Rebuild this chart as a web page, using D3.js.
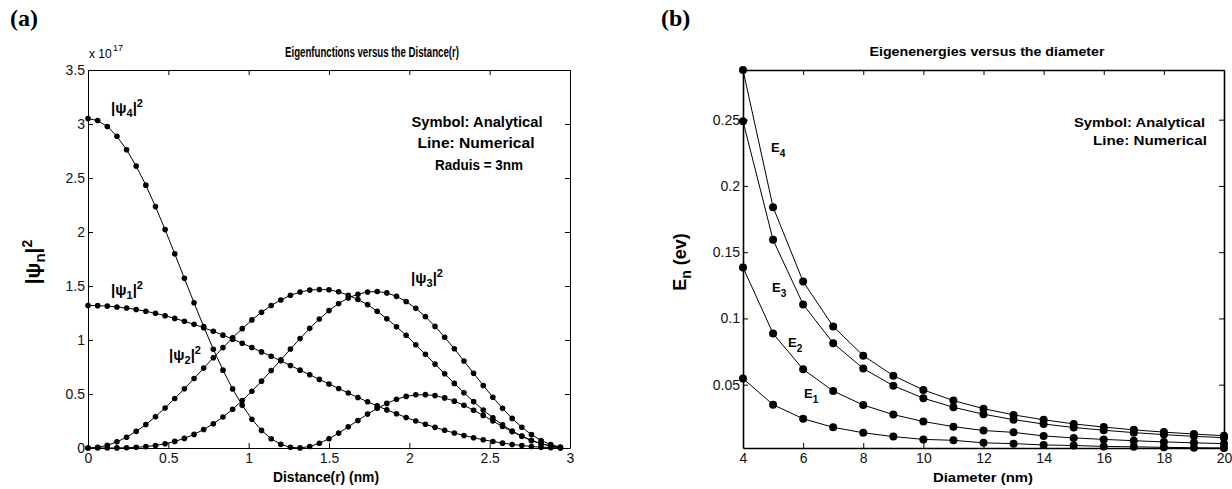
<!DOCTYPE html>
<html><head><meta charset="utf-8">
<script src="https://cdn.jsdelivr.net/npm/d3@7"></script>
<style>body{margin:0;background:#fff}svg{display:block}</style>
</head><body><svg id="c" width="1232" height="489"></svg>
<script>
// ---------- Panel (a) data ----------
const rNm = [0,0.06,0.12,0.18,0.24,0.30,0.36,0.42,0.48,0.54,0.60,0.66,0.72,0.78,0.84,0.90,0.96,1.02,1.08,1.14,
  1.20,1.26,1.32,1.38,1.44,1.50,1.56,1.62,1.68,1.74,1.80,1.86,1.92,1.98,2.04,2.10,2.16,2.22,2.28,2.34,
  2.40,2.46,2.52,2.58,2.64,2.70,2.76,2.82,2.88,2.94];
const psi1 = [1.320,1.318,1.314,1.306,1.296,1.282,1.266,1.247,1.225,1.200,1.174,1.145,1.113,1.080,1.045,1.008,0.970,0.930,0.890,0.849,
  0.807,0.764,0.721,0.678,0.635,0.593,0.551,0.509,0.468,0.428,0.390,0.353,0.317,0.283,0.250,0.220,0.191,0.164,0.139,0.116,
  0.095,0.076,0.060,0.045,0.033,0.023,0.014,0.008,0.003,0.001];
const psi2 = [0,0.006,0.025,0.057,0.100,0.154,0.217,0.290,0.371,0.458,0.549,0.643,0.740,0.836,0.929,1.021,1.105,1.186,1.257,1.319,
  1.371,1.414,1.444,1.462,1.468,1.465,1.446,1.415,1.375,1.328,1.266,1.197,1.123,1.044,0.956,0.867,0.777,0.687,0.598,0.512,
  0.429,0.351,0.280,0.215,0.158,0.110,0.070,0.039,0.017,0.004];
const psi3 = [0,0.000,0.000,0.001,0.003,0.006,0.013,0.023,0.039,0.061,0.089,0.126,0.171,0.225,0.287,0.359,0.439,0.526,0.619,0.717,
  0.816,0.916,1.014,1.108,1.194,1.272,1.338,1.390,1.424,1.445,1.449,1.436,1.404,1.357,1.293,1.216,1.126,1.026,0.919,0.806,
  0.692,0.579,0.470,0.367,0.274,0.192,0.124,0.070,0.031,0.008];
const psi4 = [3.050,3.032,2.977,2.887,2.762,2.610,2.434,2.235,2.022,1.798,1.571,1.345,1.124,0.915,0.721,0.547,0.395,0.266,0.163,0.086,
  0.034,0.006,0.001,0.014,0.044,0.086,0.138,0.196,0.255,0.314,0.367,0.413,0.451,0.478,0.492,0.494,0.485,0.464,0.434,0.395,
  0.350,0.302,0.250,0.199,0.152,0.108,0.070,0.040,0.018,0.004];
const xTicksA = [0,0.5,1,1.5,2,2.5,3];
const yTicksA = [0,0.5,1,1.5,2,2.5,3,3.5];

// ---------- Panel (b) data ----------
const diam = [4,5,6,7,8,9,10,11,12,13,14,15,16,17,18,19,20];
const E1 = [0.0546,0.0349,0.0243,0.0178,0.0137,0.0108,0.0087,0.0080,0.0061,0.0055,0.0045,0.0041,0.0034,0.0031,0.0027,0.0024,0.0022];
const E2 = [0.1385,0.0886,0.0616,0.0452,0.0346,0.0274,0.0222,0.0183,0.0154,0.0140,0.0113,0.0098,0.0087,0.0077,0.0068,0.0061,0.0055];
const E3 = [0.2489,0.1593,0.1106,0.0813,0.0622,0.0492,0.0398,0.0329,0.0277,0.0236,0.0203,0.0177,0.0156,0.0138,0.0123,0.0110,0.0100];
const E4 = [0.2875,0.1840,0.1278,0.0939,0.0719,0.0568,0.0460,0.0380,0.0319,0.0272,0.0235,0.0204,0.0180,0.0159,0.0142,0.0127,0.0115];
const xTicksB = [4,6,8,10,12,14,16,18,20];
const yTicksB = [0.05,0.1,0.15,0.2,0.25];

const svg = d3.select('#c');
const FONT = "'Liberation Sans', Arial, Helvetica, sans-serif";

function frame(x, y, xt, yt, sw) {
  const [x0, x1] = x.range(), [y0, y1] = y.range();
  const g = svg.append('g');
  g.append('g').attr('transform', `translate(0,${y0})`)
    .call(d3.axisBottom(x).tickValues(xt).tickSizeInner(-5).tickSizeOuter(0).tickPadding(5).tickFormat(d => String(d)));
  g.append('g').attr('transform', `translate(${x0},0)`)
    .call(d3.axisLeft(y).tickValues(yt).tickSizeInner(-5).tickSizeOuter(0).tickPadding(3).tickFormat(d => String(d)));
  g.append('g').attr('transform', `translate(0,${y1})`)
    .call(d3.axisTop(x).tickValues(xt).tickSizeInner(-5).tickSizeOuter(0).tickFormat(''));
  g.append('g').attr('transform', `translate(${x1},0)`)
    .call(d3.axisRight(y).tickValues(yt).tickSizeInner(-5).tickSizeOuter(0).tickFormat(''));
  g.selectAll('.domain').attr('stroke', '#000').attr('stroke-width', sw);
  g.selectAll('.tick line').attr('stroke', '#000').attr('stroke-width', 1);
  g.selectAll('.tick text').attr('fill', '#111').attr('font-family', FONT).attr('font-size', 14);
  return g;
}

function series(x, y, xs, ys, r) {
  const pts = xs.map((v, i) => [v, ys[i]]);
  svg.append('path').datum(pts)
    .attr('fill', 'none').attr('stroke', '#000').attr('stroke-width', 1)
    .attr('d', d3.line().x(d => x(d[0])).y(d => y(d[1])));
  svg.append('g').selectAll('circle').data(pts).join('circle')
    .attr('cx', d => x(d[0])).attr('cy', d => y(d[1])).attr('r', r).attr('fill', '#000');
}

function txt(x, y, s, opts = {}) {
  const t = svg.append('text').attr('x', x).attr('y', y)
    .attr('font-family', opts.family || FONT)
    .attr('font-size', opts.size || 13)
    .attr('font-weight', opts.weight || 'bold')
    .attr('text-anchor', opts.anchor || 'start')
    .attr('fill', '#000').text(s);
  if (opts.len) t.attr('textLength', opts.len).attr('lengthAdjust', 'spacingAndGlyphs');
  return t;
}

function subsup(x, y, parts, size, anchor) {
  const t = svg.append('text').attr('x', x).attr('y', y)
    .attr('font-family', FONT).attr('font-size', size).attr('font-weight', 'bold')
    .attr('text-anchor', anchor || 'start').attr('fill', '#000');
  parts.forEach(p => {
    const ts = t.append('tspan').text(p.t);
    if (p.dy) ts.attr('dy', p.dy);
    if (p.fs) ts.attr('font-size', p.fs);
  });
  return t;
}

// ================= Panel (a) =================
const xA = d3.scaleLinear().domain([0, 3]).range([88, 570]);
const yA = d3.scaleLinear().domain([0, 3.5]).range([448, 70]);
frame(xA, yA, xTicksA, yTicksA, 1);
[psi1, psi2, psi3, psi4].forEach(s => series(xA, yA, rNm, s, 2.8));

txt(10, 26, '(a)', {family: "'Liberation Serif', 'Times New Roman', serif", size: 24});
txt(372, 57, 'Eigenfunctions versus the Distance(r)', {size: 14, anchor: 'middle', len: 174});
txt(89, 58, 'x 10', {size: 12, weight: 'normal'});
txt(113, 51, '17', {size: 9, weight: 'normal'});
txt(326, 482, 'Distance(r) (nm)', {size: 14, anchor: 'middle', len: 106});

txt(477, 127, 'Symbol: Analytical', {size: 14, anchor: 'middle', len: 131});
txt(476, 148, 'Line:  Numerical', {size: 14, anchor: 'middle', len: 117});
txt(479, 170, 'Raduis = 3nm', {size: 14, anchor: 'middle', len: 88});

subsup(111, 113, [{t: '|\u03C8'}, {t: '4', dy: 4, fs: 11}, {t: '|', dy: -4}, {t: '2', dy: -6, fs: 11}], 15);
subsup(111, 295, [{t: '|\u03C8'}, {t: '1', dy: 4, fs: 11}, {t: '|', dy: -4}, {t: '2', dy: -6, fs: 11}], 15);
subsup(169, 360, [{t: '|\u03C8'}, {t: '2', dy: 4, fs: 11}, {t: '|', dy: -4}, {t: '2', dy: -6, fs: 11}], 15);
subsup(411, 283, [{t: '|\u03C8'}, {t: '3', dy: 4, fs: 11}, {t: '|', dy: -4}, {t: '2', dy: -6, fs: 11}], 15);

subsup(0, 0, [{t: '|\u03C8'}, {t: 'n', dy: 5, fs: 15}, {t: '|', dy: -5}, {t: '2', dy: -8, fs: 14}], 21, 'middle')
  .attr('transform', 'translate(40,262) rotate(-90)');

// ================= Panel (b) =================
const xB = d3.scaleLinear().domain([4, 20]).range([743, 1224]);
const yB = d3.scaleLinear().domain([0.0022, 0.2875]).range([448, 70]);
frame(xB, yB, xTicksB, yTicksB, 1.6);
[E1, E2, E3, E4].forEach(s => series(xB, yB, diam, s, 4));

txt(661, 26, '(b)', {family: "'Liberation Serif', 'Times New Roman', serif", size: 24});
txt(987, 56, 'Eigenenergies versus the diameter', {size: 12, anchor: 'middle', len: 235});
txt(983, 482, 'Diameter (nm)', {size: 13, anchor: 'middle', len: 100});

txt(1205, 127, 'Symbol: Analytical', {size: 13, anchor: 'end', len: 131});
txt(1207, 145, 'Line:  Numerical', {size: 13, anchor: 'end', len: 114});

subsup(771, 152, [{t: 'E'}, {t: '4', dy: 5, fs: 10}], 13);
subsup(772, 292, [{t: 'E'}, {t: '3', dy: 5, fs: 10}], 13);
subsup(788, 347, [{t: 'E'}, {t: '2', dy: 5, fs: 10}], 13);
subsup(804, 398, [{t: 'E'}, {t: '1', dy: 5, fs: 10}], 13);

subsup(0, 0, [{t: 'E'}, {t: 'n', dy: 5, fs: 14}, {t: ' (ev)', dy: -5}], 18, 'middle')
  .attr('transform', 'translate(686,262) rotate(-90)');
</script>
</body></html>
